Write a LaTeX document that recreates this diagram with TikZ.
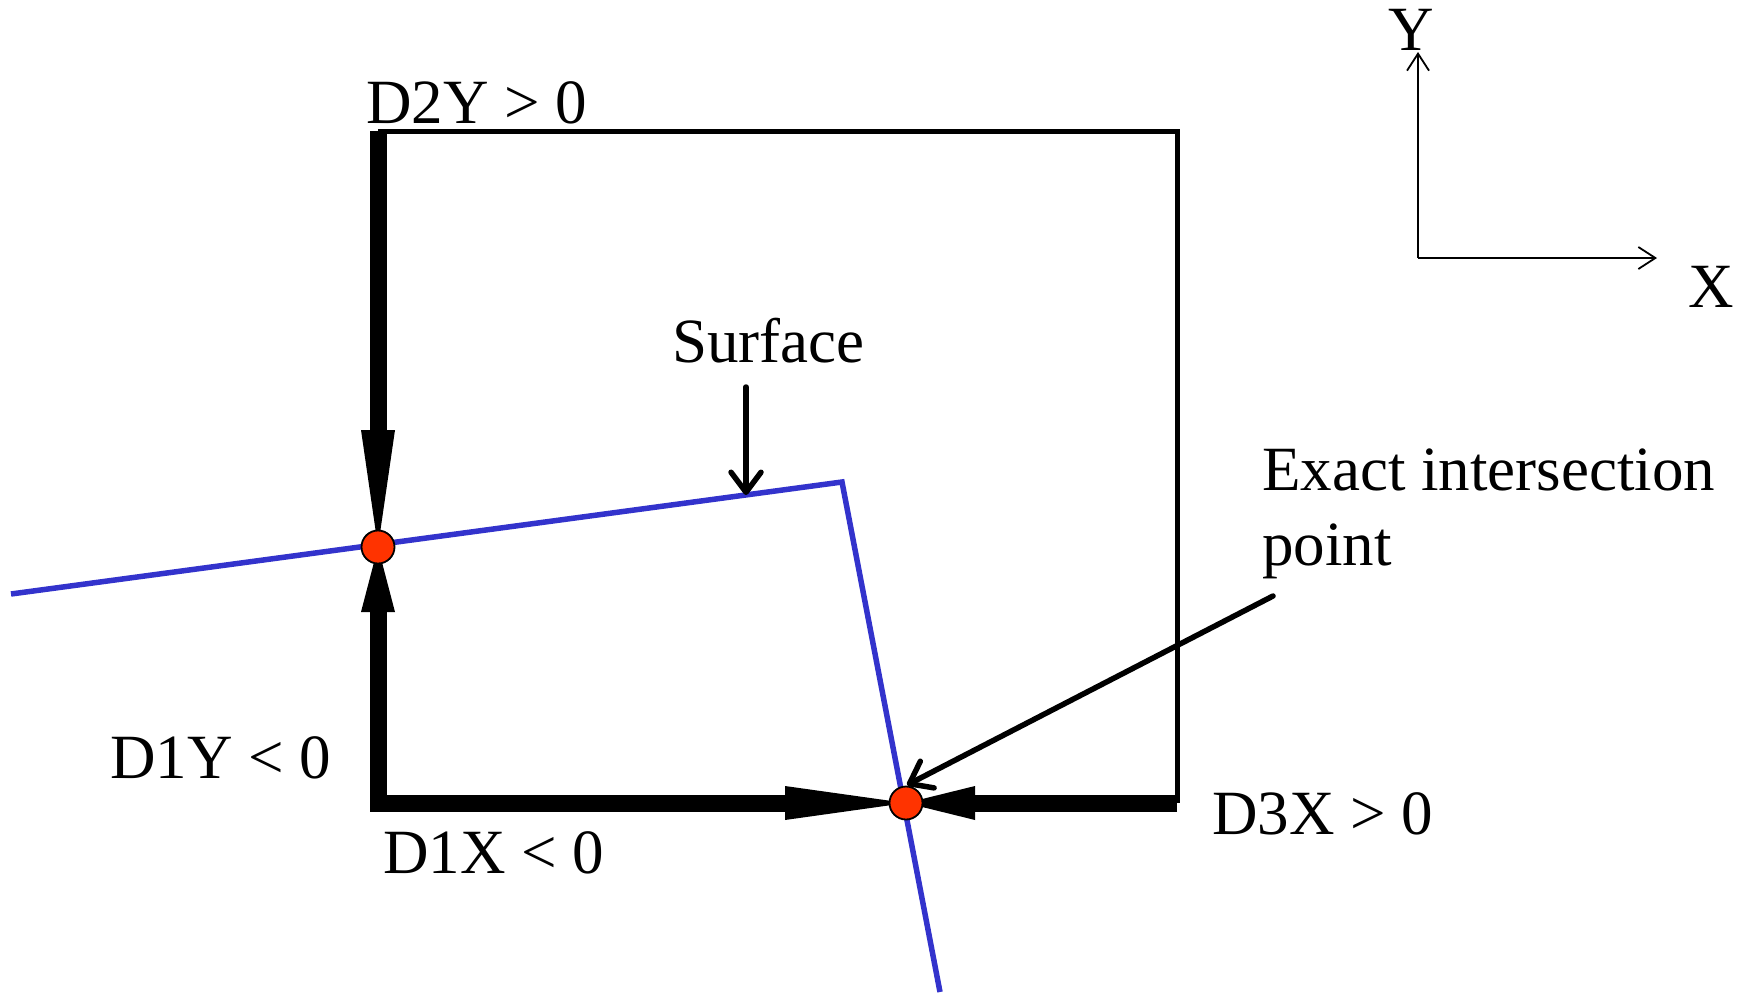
\documentclass[tikz,border=0pt]{standalone}
\usepackage{fontspec}
\setmainfont{Liberation Serif}
\usetikzlibrary{arrows.meta}
\definecolor{surfblue}{HTML}{3333CC}
\definecolor{dotred}{HTML}{FF3300}
\tikzset{
  lbl/.style={inner sep=0pt, anchor=base west, font=\fontsize{63}{70}\selectfont},
  thickarr/.style={line width=17pt},
  thinrect/.style={line width=5pt, line join=miter},
  surf/.style={draw=surfblue, line width=5.5pt, line join=miter},
  ptr/.style={line width=5.5pt, line cap=round, -{Straight Barb[length=20pt,width=30pt,round]}},
  axisarr/.style={line width=1.8pt, -{Straight Barb[length=17pt,width=22pt]}},
  isect/.style={circle, fill=dotred, draw=black, line width=1.8pt, minimum size=33pt, inner sep=0pt},
}
\begin{document}
\begin{tikzpicture}[x=1pt,y=-1pt]
\useasboundingbox (0,0) rectangle (1748,996);
% key points
\coordinate (tl) at (378,131);
\coordinate (tr) at (1177,131);
\coordinate (br) at (1177,803);
\coordinate (bl) at (378,803);
\coordinate (s0) at (11,594);
\coordinate (s1) at (842,482);
\coordinate (s2) at (940,992);
\coordinate (d1) at (378,547);
\coordinate (d2) at (906,803);
% surface
\draw[surf] (s0) -- (s1) -- (s2);
% thin rectangle edges
\draw[thinrect] (tl) -- (tr) -- (br);
% thick arrows
\draw[thickarr, -{Triangle[length=117pt,width=34pt,line width=0pt]}] (tl) -- (d1);
\draw[thickarr, line cap=rect, -{Triangle[length=65pt,width=34pt,line width=0pt]}] (bl) -- (d1);
\draw[thickarr, line cap=rect, -{Triangle[length=121pt,width=34pt,line width=0pt]}] (bl) -- (d2);
\draw[thickarr, -{Triangle[length=69pt,width=34pt,line width=0pt]}] (br) -- (d2);
% intersection points
\node[isect] (p1) at (d1) {};
\node[isect] (p2) at (d2) {};
% labels
\node[lbl] (d2y) at (366,123) {D2Y > 0};
\node[lbl] (surflbl) at (672,362) {Surface};
\node[lbl] (exact) at (1262,490) {Exact intersection};
\node[lbl] (point) at (1262,565) {point};
\node[lbl] (d1y) at (110,778) {D1Y < 0};
\node[lbl] (d1x) at (383,873) {D1X < 0};
\node[lbl] (d3x) at (1212,834) {D3X > 0};
\node[lbl] (ylbl) at (1388,50) {Y};
\node[lbl] (xlbl) at (1688,307) {X};
% pointers
\coordinate (sfa) at (746,387);
\coordinate (sfb) at (746,495);
\draw[ptr] (sfa) -- (sfb);
\coordinate (ia) at (1273,596);
\coordinate (ib) at (907,785);
\draw[ptr] (ia) -- (ib);
% axes
\coordinate (org) at (1418,258);
\coordinate (ytip) at (1418,52);
\coordinate (xtip) at (1657,258);
\draw[axisarr] (org) -- (ytip);
\draw[axisarr] (org) -- (xtip);
\end{tikzpicture}
\end{document}
